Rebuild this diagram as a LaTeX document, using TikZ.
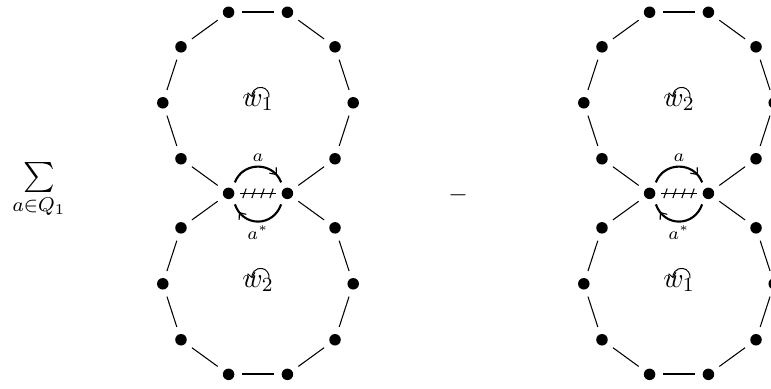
\documentclass[tikz,border=0pt]{standalone}
\usepackage{amsmath,amssymb}
\usetikzlibrary{calc,arrows.meta,decorations.markings}
\tikzset{
  x=0.4pt,y=0.4pt,
  dot/.style={circle,fill=black,draw=none,inner sep=0pt,minimum size=4.6pt},
  thinedge/.style={line width=0.42pt,shorten >=2.9pt,shorten <=2.9pt},
  boldedge/.style={line width=0.85pt,shorten >=2.9pt,shorten <=2.9pt},
  hatchline/.style={line width=0.42pt,shorten >=2.2pt,shorten <=2.2pt},
  hatchmark/.style={line width=0.42pt},
  arcarrow/.style={line width=0.85pt,postaction={decorate},
    decoration={markings,mark=at position #1 with {\arrow{Straight Barb[length=2.2pt,width=3.6pt,line width=0.45pt]}}}},
  arclabel/.style={font=\scriptsize,inner sep=0pt},
  wlabel/.style={font=\fontsize{11}{13}\selectfont,inner sep=0pt},
  spin/.style={line width=0.4pt,-{Straight Barb[length=1.8pt,width=3pt]}},
  sumlabel/.style={font=\fontsize{12}{14}\selectfont,inner sep=0pt},
}
\newcommand\figeight[4]{%
  \coordinate (#1-c1) at (#2,285.2);
  \coordinate (#1-c2) at (#2,104.2);
  \foreach \k in {0,...,9}{\node[dot] (#1-t\k) at ($(#1-c1)+(\k*36:95.2)$) {};}
  \foreach \k in {0,1,4,5,6,7,8,9}{\node[dot] (#1-b\k) at ($(#1-c2)+(\k*36:95.2)$) {};}
  \foreach \i/\j in {0/1,1/2,3/4,4/5,5/6,6/7,8/9,9/0}{\draw[thinedge] (#1-t\i) -- (#1-t\j);}
  \draw[boldedge] (#1-t2) -- (#1-t3);
  \foreach \i/\j in {b0/b1,b1/t8,t7/b4,b4/b5,b5/b6,b6/b7,b8/b9,b9/b0}{\draw[thinedge] (#1-\i) -- (#1-\j);}
  \draw[boldedge] (#1-b7) -- (#1-b8);
  \draw[hatchline] (#1-t7) -- (#1-t8);
  \coordinate (#1-m) at ($(#1-t7)!0.5!(#1-t8)$);
  \foreach \d in {-13.5,-4.5,4.5,13.5}{\draw[hatchmark] ($(#1-m)+(\d-1.7,-4.8)$) -- ($(#1-m)+(\d+1.7,4.8)$);}
  \draw[arcarrow=0.86] ($(#1-t7)+(6.3,11)$) .. controls +(8,21) and +(-8,21) .. ($(#1-t8)+(-6.3,11)$);
  \draw[arcarrow=0.86] ($(#1-t8)+(-6.3,-11)$) .. controls +(-8,-23) and +(8,-23) .. ($(#1-t7)+(6.3,-11)$);
  \node[arclabel] (#1-la) at ($(#1-m)+(0,35.3)$) {$a$};
  \node[arclabel] (#1-lb) at ($(#1-m)+(0,-39)$) {$a^*$};
  \node[wlabel] (#1-wt) at (#1-c1) {$w_{#3}$};
  \node[wlabel] (#1-wb) at (#1-c2) {$w_{#4}$};
  \draw[spin] ($(#1-wt)+(10.9,5.5)$) arc[start angle=-10,end angle=190,radius=3.4pt];
  \draw[spin] ($(#1-wb)+(10.9,5.5)$) arc[start angle=-10,end angle=190,radius=3.4pt];
}
\begin{document}
\begin{tikzpicture}
  \useasboundingbox (0,0) rectangle (771,388);
  \clip (0,0) rectangle (771,388);
  \node[sumlabel] (sum) at (39,197.5) {$\sum\limits_{a\in Q_1}$};
  \figeight{L}{258}{1}{2}
  \node[inner sep=0pt] (minus) at (458,193) {$-$};
  \figeight{R}{679}{2}{1}
\end{tikzpicture}
\end{document}
